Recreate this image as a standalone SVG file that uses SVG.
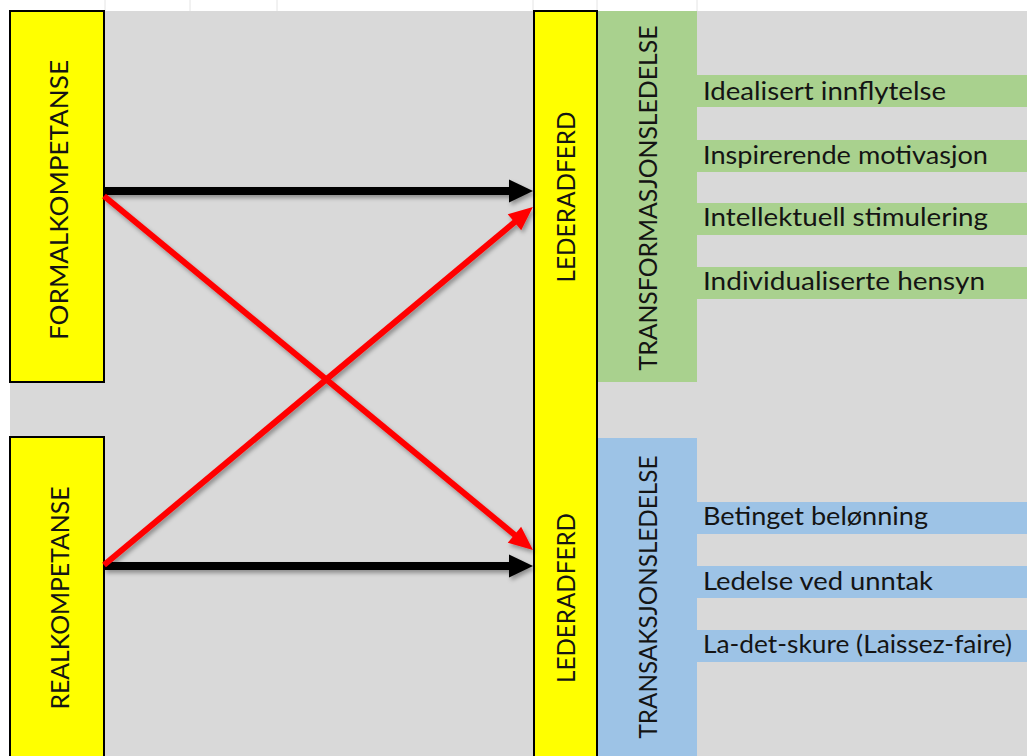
<svg xmlns="http://www.w3.org/2000/svg" width="1027" height="756" viewBox="0 0 1027 756">
  <style>
    .lbl { font-family: Lato, "Liberation Sans", sans-serif; font-size: 25px; fill: #141414; }
    .vlbl { font-family: Lato, "Liberation Sans", sans-serif; font-size: 25px; fill: #141414; text-anchor: middle; }
    .box { fill: #ffff00; stroke: #000; stroke-width: 2; }
    .green { fill: #a9d18e; }
    .blue { fill: #9dc3e6; }
    .grid { stroke: #e4e4e4; stroke-width: 1; }
    .blk { stroke: #000; stroke-width: 8; fill: none; marker-end: url(#headBlack); }
    .red { stroke: #ff0000; stroke-width: 6; fill: none; marker-end: url(#headRed); }
  </style>
  <defs>
    <marker id="headBlack" viewBox="-4 -13 28 26" markerWidth="28" markerHeight="26" refX="0" refY="0" markerUnits="userSpaceOnUse" orient="auto">
      <path d="M-2,-11.5 L22,0 L-2,11.5 z" fill="#000"/>
    </marker>
    <marker id="headRed" viewBox="-4 -13 28 26" markerWidth="28" markerHeight="26" refX="0" refY="0" markerUnits="userSpaceOnUse" orient="auto">
      <path d="M-2,-10.5 L22,0 L-2,10.5 z" fill="#ff0000"/>
    </marker>
    <filter id="shadow" x="-10%" y="-10%" width="120%" height="120%">
      <feDropShadow dx="2" dy="3" stdDeviation="2" flood-color="#000" flood-opacity="0.35"/>
    </filter>
  </defs>

  <!-- page and sheet background -->
  <rect x="0" y="0" width="1027" height="756" fill="#ffffff"/>
  <rect x="10" y="11" width="1017" height="745" fill="#d9d9d9"/>
  <g id="header-grid">
    <line class="grid" x1="105" y1="0" x2="105" y2="11"/>
    <line class="grid" x1="190" y1="0" x2="190" y2="11"/>
    <line class="grid" x1="277" y1="0" x2="277" y2="11"/>
    <line class="grid" x1="533" y1="0" x2="533" y2="11"/>
    <line class="grid" x1="597" y1="0" x2="597" y2="11"/>
    <line class="grid" x1="697" y1="0" x2="697" y2="11"/>
  </g>

  <!-- transformational leadership block -->
  <g id="transformasjonsledelse">
    <rect class="green" x="598" y="11" width="99" height="371"/>
    <text class="vlbl" transform="translate(657,198) rotate(-90)" textLength="345" lengthAdjust="spacingAndGlyphs">TRANSFORMASJONSLEDELSE</text>
  </g>
  <g id="idealisert">
    <rect class="green" x="697" y="75" width="330" height="32"/>
    <text class="lbl" x="703" y="100" textLength="243" lengthAdjust="spacingAndGlyphs">Idealisert innflytelse</text>
  </g>
  <g id="inspirerende">
    <rect class="green" x="697" y="140" width="330" height="32"/>
    <text class="lbl" x="703" y="164" textLength="285" lengthAdjust="spacingAndGlyphs">Inspirerende motivasjon</text>
  </g>
  <g id="intellektuell">
    <rect class="green" x="697" y="203" width="330" height="32"/>
    <text class="lbl" x="703" y="226" textLength="285" lengthAdjust="spacingAndGlyphs">Intellektuell stimulering</text>
  </g>
  <g id="individualiserte">
    <rect class="green" x="697" y="267" width="330" height="32"/>
    <text class="lbl" x="703" y="290" textLength="282" lengthAdjust="spacingAndGlyphs">Individualiserte hensyn</text>
  </g>

  <!-- transactional leadership block -->
  <g id="transaksjonsledelse">
    <rect class="blue" x="598" y="438" width="99" height="318"/>
    <text class="vlbl" transform="translate(657,597) rotate(-90)" textLength="283" lengthAdjust="spacingAndGlyphs">TRANSAKSJONSLEDELSE</text>
  </g>
  <g id="betinget">
    <rect class="blue" x="697" y="502" width="330" height="32"/>
    <text class="lbl" x="703" y="525" textLength="225" lengthAdjust="spacingAndGlyphs">Betinget belønning</text>
  </g>
  <g id="unntak">
    <rect class="blue" x="697" y="566" width="330" height="32"/>
    <text class="lbl" x="703" y="590" textLength="230" lengthAdjust="spacingAndGlyphs">Ledelse ved unntak</text>
  </g>
  <g id="laissez-faire">
    <rect class="blue" x="697" y="630" width="330" height="32"/>
    <text class="lbl" x="703" y="653" textLength="309" lengthAdjust="spacingAndGlyphs">La-det-skure (Laissez-faire)</text>
  </g>

  <!-- competence boxes -->
  <g id="formalkompetanse">
    <rect class="box" x="10" y="11" width="94" height="371"/>
    <text class="vlbl" transform="translate(68,200) rotate(-90)" textLength="280" lengthAdjust="spacingAndGlyphs">FORMALKOMPETANSE</text>
  </g>
  <g id="realkompetanse">
    <rect class="box" x="10" y="437" width="94" height="330"/>
    <text class="vlbl" transform="translate(69,598) rotate(-90)" textLength="223" lengthAdjust="spacingAndGlyphs">REALKOMPETANSE</text>
  </g>

  <!-- leader behaviour column -->
  <g id="lederadferd">
    <rect class="box" x="534" y="11" width="63" height="756"/>
    <text class="vlbl" transform="translate(575,197) rotate(-90)" textLength="171" lengthAdjust="spacingAndGlyphs">LEDERADFERD</text>
    <text class="vlbl" transform="translate(575,598) rotate(-90)" textLength="170" lengthAdjust="spacingAndGlyphs">LEDERADFERD</text>
  </g>

  <!-- connectors -->
  <g id="connectors" filter="url(#shadow)">
    <line class="blk" x1="104" y1="191" x2="511" y2="191"/>
    <line class="blk" x1="104" y1="566" x2="511" y2="566"/>
    <line class="red" x1="104" y1="196" x2="516" y2="536"/>
    <line class="red" x1="104" y1="565" x2="516" y2="221"/>
  </g>
</svg>
